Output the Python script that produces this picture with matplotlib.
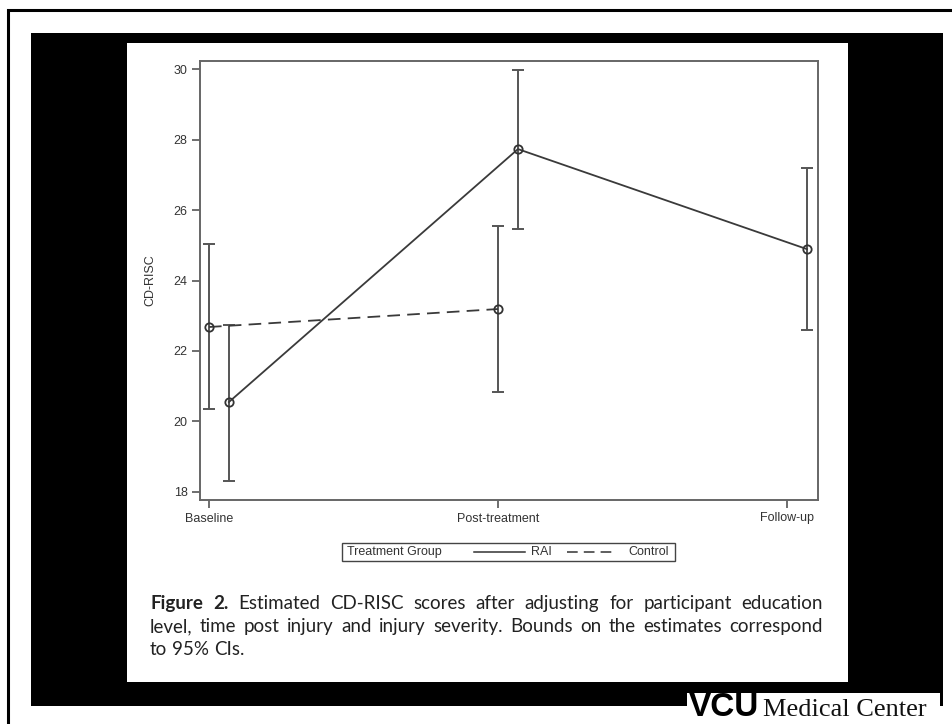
import matplotlib
matplotlib.use("Agg")
import matplotlib.pyplot as plt
from matplotlib.patches import Rectangle
from matplotlib.lines import Line2D

# === DATA ===
categories = ["Baseline", "Post-treatment", "Follow-up"]
rai_mean = [20.55, 27.73, 24.89]
rai_lo = [18.31, 25.46, 22.60]
rai_hi = [22.74, 29.97, 27.19]
ctrl_mean = [22.68, 23.19]
ctrl_lo = [20.35, 20.84]
ctrl_hi = [25.04, 25.55]
yticks = [18, 20, 22, 24, 26, 28, 30]

caption_lines = [
    "Figure 2. Estimated CD-RISC scores after adjusting for participant education",
    "level, time post injury and injury severity. Bounds on the estimates correspond",
    "to 95% CIs.",
]

W, H = 952, 724
fig = plt.figure(figsize=(W / 100, H / 100), dpi=100)
fig.patch.set_facecolor("white")


def fx(x):
    return x / W


def fy(y):
    return 1 - y / H


def rect(x0, y0, x1, y1, **kw):
    fig.patches.append(Rectangle((fx(x0), fy(y1)), fx(x1) - fx(x0), fy(y0) - fy(y1),
                                 transform=fig.transFigure, figure=fig, **kw))


# === SLIDE BACKGROUND ===
rect(8, 10, 970, 740, facecolor="white", edgecolor="black", lw=2.2, zorder=0)
rect(31, 33, 943, 706, facecolor="black", edgecolor="none", zorder=1)
rect(127, 43, 848, 682, facecolor="white", edgecolor="none", zorder=2)

# === MAIN PLOT ===
ax = fig.add_axes([fx(200), fy(500), fx(818) - fx(200), fy(61) - fy(500)])
ax.set_zorder(5)
ax.set_facecolor("white")

xs = list(range(len(categories)))
off = 0.069
rai_x = [x + off for x in xs]
ctrl_x = xs[:len(ctrl_mean)]

line_col = "#3a3a3a"
err_col = "#555555"

ax.errorbar(ctrl_x, ctrl_mean,
            yerr=[[m - l for m, l in zip(ctrl_mean, ctrl_lo)],
                  [h - m for m, h in zip(ctrl_mean, ctrl_hi)]],
            fmt="none", ecolor=err_col, elinewidth=1.4, capsize=4.3, capthick=1.4)
ax.errorbar(rai_x, rai_mean,
            yerr=[[m - l for m, l in zip(rai_mean, rai_lo)],
                  [h - m for m, h in zip(rai_mean, rai_hi)]],
            fmt="none", ecolor=err_col, elinewidth=1.4, capsize=4.3, capthick=1.4)
ax.plot(ctrl_x, ctrl_mean, color=line_col, lw=1.3, ls=(0, (7, 4)),
        marker="o", ms=6, mfc="none", mec="#333333", mew=1.3)
ax.plot(rai_x, rai_mean, color=line_col, lw=1.3,
        marker="o", ms=6, mfc="none", mec="#333333", mew=1.3)

ax.set_xlim(-0.031, 2.107)
ax.set_ylim(17.77, 30.23)
ax.set_xticks(xs)
ax.set_xticklabels(categories)
ax.set_yticks(yticks)
for s in ax.spines.values():
    s.set_color("#666666")
    s.set_linewidth(1.4)
ax.tick_params(direction="out", length=6, width=1.2, color="#555555",
               labelsize=9, labelcolor="#333333", pad=3)
for lab in ax.get_xticklabels() + ax.get_yticklabels():
    lab.set_family("Liberation Sans")
ax.set_ylabel("CD-RISC", family="Liberation Sans", fontsize=9, color="#333333",
              labelpad=12)

# === LEGEND BOX ===
rect(342, 543, 675, 561, facecolor="white", edgecolor="#444444", lw=1.0, zorder=6)
leg_kw = dict(family="Liberation Sans", fontsize=9, color="#333333", va="center", zorder=7)
fig.text(fx(347), fy(552), "Treatment Group", ha="left", **leg_kw)
fig.lines.append(Line2D([fx(474), fx(525)], [fy(552), fy(552)], color="#333333", lw=1.1,
                        transform=fig.transFigure, zorder=7))
fig.text(fx(531), fy(552), "RAI", ha="left", **leg_kw)
fig.lines.append(Line2D([fx(567), fx(615)], [fy(552), fy(552)], color="#333333", lw=1.1,
                        ls=(0, (7, 4)), transform=fig.transFigure, zorder=7))
fig.text(fx(669), fy(552), "Control", ha="right", **leg_kw)

# === CAPTION (justified) ===
fig.canvas.draw()
renderer = fig.canvas.get_renderer()
cap_left, cap_right = 150, 823
cap_base = [609, 632, 655]
cap_size = 13.5
for i, line in enumerate(caption_lines):
    words = line.split(" ")
    items = []
    for j, w in enumerate(words):
        bold = (i == 0 and j < 2)
        t = fig.text(0, 0, w, fontsize=cap_size, family="Lato",
                     weight="bold" if bold else "normal", color="#222222",
                     va="baseline", ha="left", zorder=7)
        items.append(t)
    widths = [t.get_window_extent(renderer).width for t in items]
    if i < len(caption_lines) - 1:
        gap = (cap_right - cap_left - sum(widths)) / (len(words) - 1)
    else:
        space = fig.text(0, 0, "a b", fontsize=cap_size, family="Lato")
        ab = space.get_window_extent(renderer).width
        space.remove()
        a = fig.text(0, 0, "ab", fontsize=cap_size, family="Lato")
        gap = ab - a.get_window_extent(renderer).width
        a.remove()
    x = cap_left
    for t, wdt in zip(items, widths):
        t.set_position((fx(x), fy(cap_base[i])))
        x += wdt + gap

# === LOGO ===
rect(687, 693, 940, 719, facecolor="white", edgecolor="none", zorder=8)
fig.text(fx(689), fy(716), "VCU", family="Liberation Sans", weight="bold", fontsize=24,
         color="black", ha="left", va="baseline", zorder=9)
fig.text(fx(763), fy(716), "Medical Center", family="Liberation Serif", fontsize=19,
         color="#111111", ha="left", va="baseline", zorder=9)

fig.savefig("out.png", dpi=100, facecolor="white")
